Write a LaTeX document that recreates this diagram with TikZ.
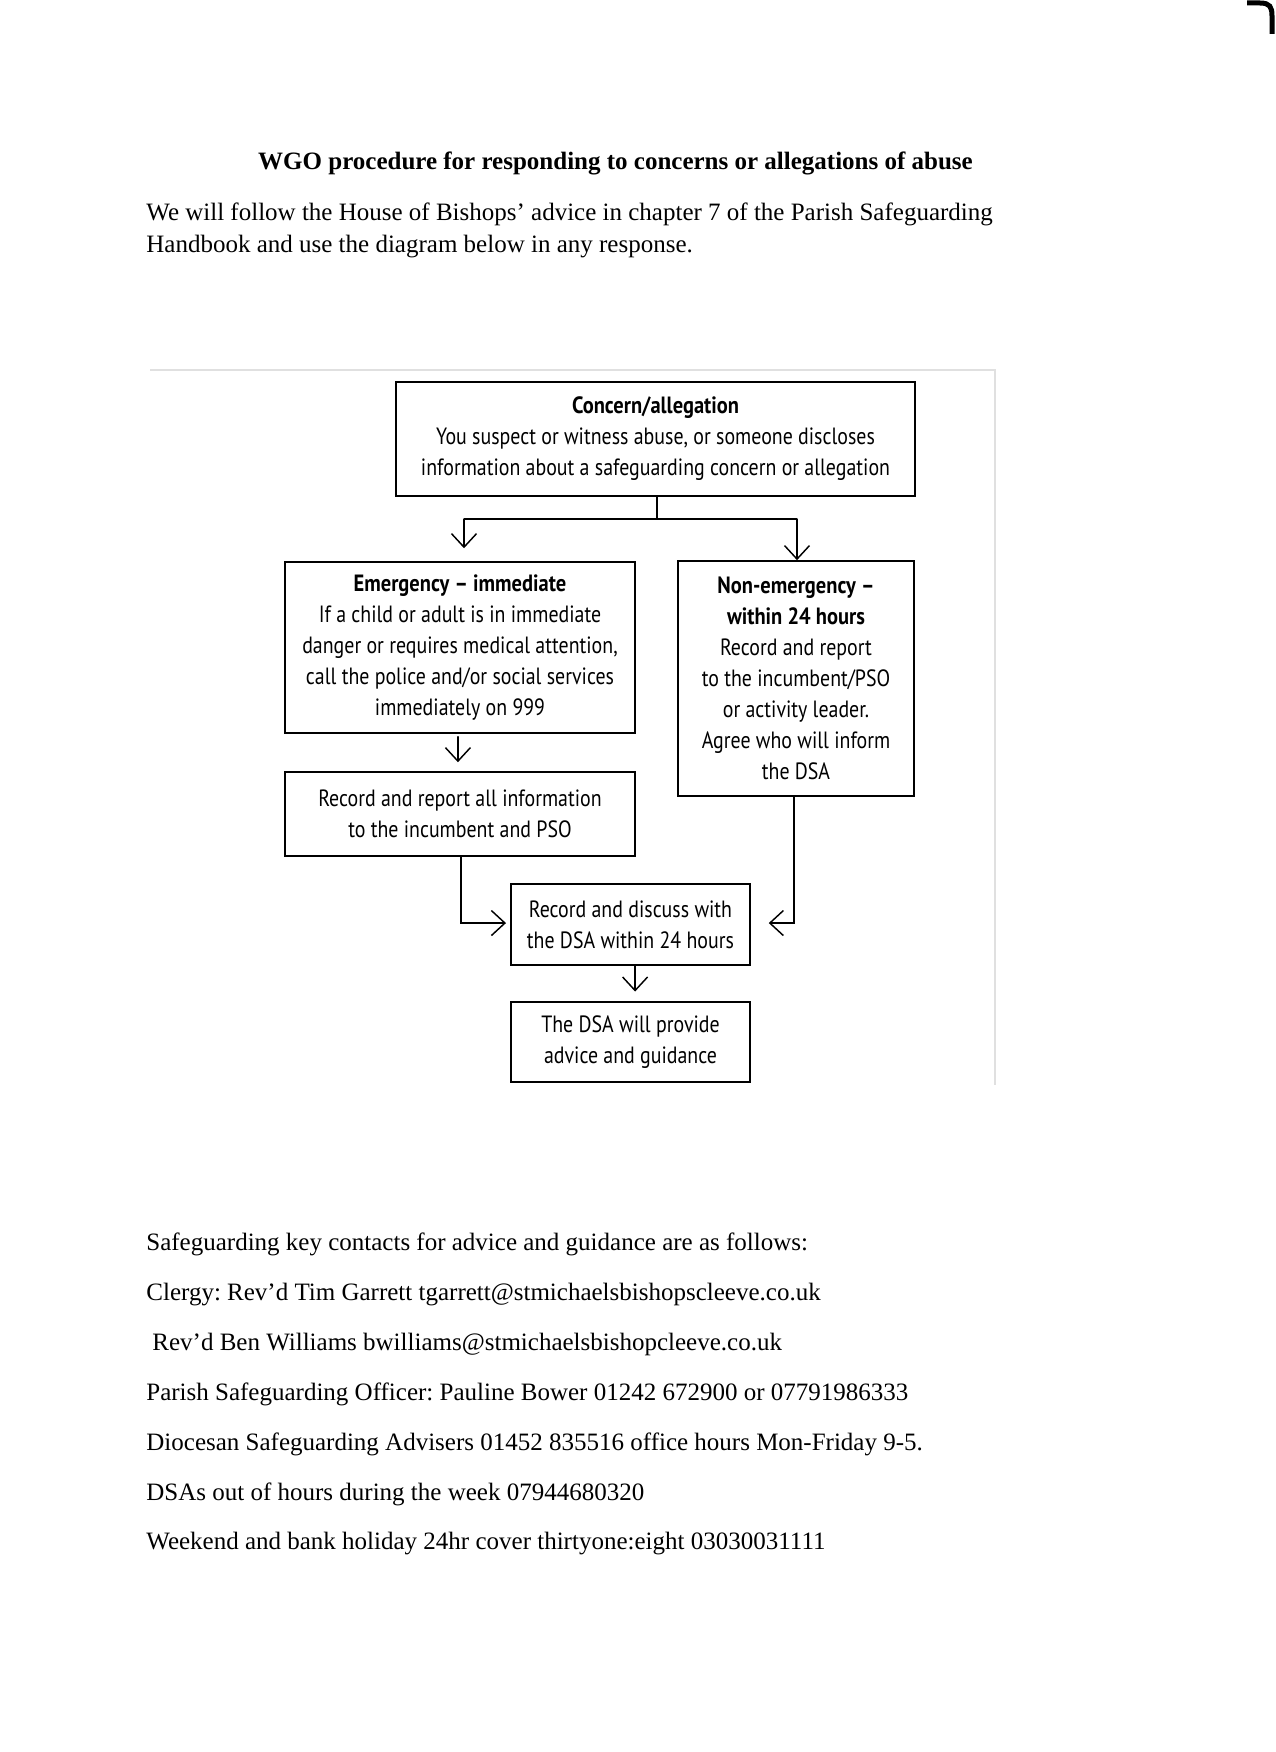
\documentclass[tikz,border=0pt]{standalone}
\usepackage{fontspec}
\setmainfont{Liberation Serif}
\newfontfamily\boxfont[FakeStretch=0.845, BoldFeatures={FakeStretch=0.87}]{PT Sans}
\usetikzlibrary{arrows.meta}
\frenchspacing
\tikzset{
  box/.style={draw, line width=0.8pt, inner sep=0pt, align=center,
    font=\boxfont\fontsize{11.3}{14.9}\selectfont},
  conn/.style={line width=0.7pt, line cap=round},
  arr/.style={conn, -{Straight Barb[length=6.5pt, width=12pt]}},
  body/.style={anchor=base west, inner sep=0pt, font=\fontsize{12}{14}\selectfont},
  faint/.style={black!12, line width=0.5pt},
}
\begin{document}
\begin{tikzpicture}[x=0.48pt, y=-0.48pt]
\useasboundingbox (0,0) rectangle (1275,1752);
\fill[white] (0,0) rectangle (1275,1752);

% scan artefacts
\draw[line width=2.4pt] (1247,3) -- (1260,3) .. controls (1270,3) and (1272,7) .. (1272,16) -- (1272,34);
\draw[faint] (150,370) -- (995,370) -- (995,1085);

% heading and intro
\node[anchor=base, inner sep=0pt, font=\fontsize{12}{14}\selectfont\bfseries] (title) at (615.5,170)
  {WGO procedure for responding to concerns or allegations of abuse};
\node[body] (p1) at (146,220) {We will follow the House of Bishops’ advice in chapter 7 of the Parish Safeguarding};
\node[body] (p2) at (146,252) {Handbook and use the diagram below in any response.};

% flowchart boxes
\node[box, minimum width=519*0.48pt, minimum height=114*0.48pt] (concern) at (655.5,439)
  {{\bfseries Concern/allegation}\\You suspect or witness abuse, or someone discloses\\information about a safeguarding concern or allegation};
\node[box, minimum width=350*0.48pt, minimum height=171*0.48pt] (emerg) at (460,647.5)
  {{\bfseries Emergency – immediate}\\If a child or adult is in immediate\\danger or requires medical attention,\\call the police and/or social services\\immediately on 999};
\node[box, minimum width=236*0.48pt, minimum height=235*0.48pt] (nonem) at (796,678.5)
  {{\bfseries Non-emergency –}\\{\bfseries within 24 hours}\\Record and report\\to the incumbent/PSO\\or activity leader.\\Agree who will inform\\the DSA};
\node[box, minimum width=350*0.48pt, minimum height=84*0.48pt] (rec) at (460,814)
  {Record and report all information\\to the incumbent and PSO};
\node[box, minimum width=239*0.48pt, minimum height=81*0.48pt] (disc) at (630.5,924.5)
  {Record and discuss with\\the DSA within 24 hours};
\node[box, minimum width=239*0.48pt, minimum height=80*0.48pt] (dsa) at (630.5,1042)
  {The DSA will provide\\advice and guidance};

% connectors
\coordinate (jL) at (464,519);
\coordinate (jR) at (797,519);
\draw[conn] ([xshift=0.7pt]concern.south) -- ([xshift=0.7pt]concern.south |- jL);
\draw[line width=1pt] (jL) -- (jR);
\draw[arr, shorten >=6.2pt] (jL) -- (jL |- emerg.north);
\draw[arr] (jR) -- (jR |- nonem.north);
\draw[arr, shorten <=1.4pt, shorten >=4.3pt] ([xshift=-1pt]emerg.south) -- ([xshift=-1pt]rec.north);
\draw[arr, shorten >=2pt] ([xshift=0.5pt]rec.south) |- ([yshift=0.7pt]disc.west);
\draw[arr, shorten >=8.6pt] ([xshift=-1pt]nonem.south) |- ([yshift=0.7pt]disc.east);
\draw[arr, shorten >=4.6pt] ([xshift=2.2pt]disc.south) -- ([xshift=2.2pt]dsa.north);

% contacts
\node[body] (c1) at (146,1250) {Safeguarding key contacts for advice and guidance are as follows:};
\node[body] (c2) at (146,1300) {Clergy: Rev’d Tim Garrett tgarrett@stmichaelsbishopscleeve.co.uk};
\node[body] (c3) at (152,1350) {Rev’d Ben Williams bwilliams@stmichaelsbishopcleeve.co.uk};
\node[body] (c4) at (146,1400) {Parish Safeguarding Officer: Pauline Bower 01242 672900 or 07791986333};
\node[body] (c5) at (146,1450) {Diocesan Safeguarding Advisers 01452 835516 office hours Mon-Friday 9-5.};
\node[body] (c6) at (146,1500) {DSAs out of hours during the week 07944680320};
\node[body] (c7) at (146,1549) {Weekend and bank holiday 24hr cover thirtyone:eight 03030031111};
\end{tikzpicture}
\end{document}
